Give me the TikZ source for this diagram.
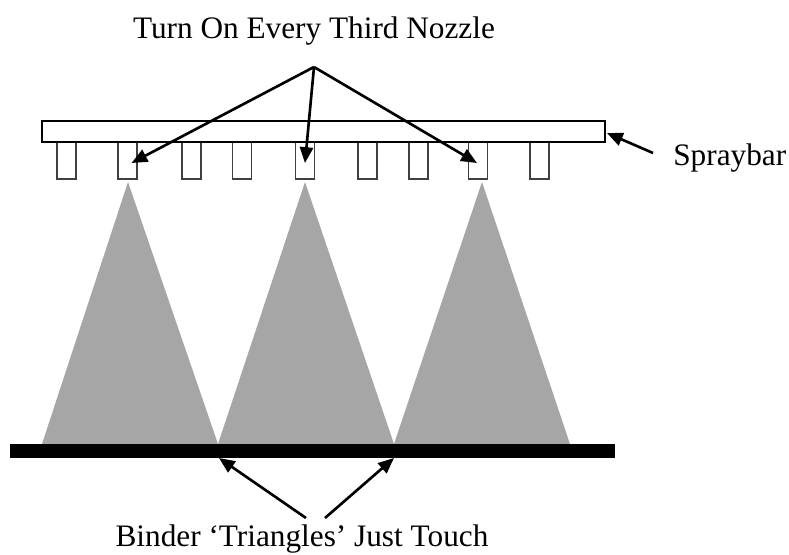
\documentclass[tikz,border=0pt]{standalone}
\usepackage{fontspec}
\setmainfont{Liberation Serif}
\usetikzlibrary{arrows.meta}
\definecolor{spraygray}{HTML}{A6A6A6}
\definecolor{nozzlegray}{HTML}{404040}

\begin{document}
\begin{tikzpicture}[x=0.02cm, y=-0.02cm,
    nozzle/.style={draw=nozzlegray, line width=0.6pt, minimum width=0.38cm,
                   minimum height=0.74cm, inner sep=0pt, outer sep=0pt},
    pointer/.style={-{Triangle[length=9pt, width=7.5pt]}, line width=1.5pt},
    callout/.style={font=\fontsize{17.8}{21}\selectfont, inner sep=0pt}]
    \useasboundingbox (0,0) rectangle (789,555);
    \foreach \l/\a/\r in {42/128/218, 218/305/394, 394/482/570}{
      \fill[spraygray] (\l,444) -- (\a,182) -- (\r,444) -- cycle;
    }
    \foreach \i/\x in {1/66.5, 2/127.5, 3/191.5, 4/242, 5/305,
                       6/367.5, 7/418.5, 8/478, 9/539.5}{
      \node[nozzle] (n\i) at (\x,160.5) {};
    }
    \node[draw, line width=1pt, minimum width=11.26cm, minimum height=0.42cm,
          inner sep=0pt, outer sep=0pt] (bar) at (323.5,131.5) {};
    \node[fill=black, minimum width=12.1cm, minimum height=0.28cm,
          inner sep=0pt, outer sep=0pt] (bed) at (312.5,451) {};
    \node[callout, anchor=base] (title) at (314,38) {Turn On Every Third Nozzle};
    \node[callout, anchor=base west] (spraylbl) at (673,165) {Spraybar};
    \node[callout, anchor=base] (binder) at (302,546) {Binder ‘Triangles’ Just Touch};
    \coordinate (hub) at (314,67);
    \coordinate (sbtail) at (653,153);
    \coordinate (j1) at (219,444);
    \coordinate (j2) at (394,444);
    \coordinate (lt) at (306,518);
    \coordinate (rt) at (325,518);
    \foreach \i/\dx in {2/0.08, 5/0, 8/-0.02}{
      \draw[pointer] (hub) -- ([xshift=\dx cm, yshift=-0.42cm]n\i.north);
    }
    \draw[pointer] (sbtail) -- ([xshift=0.04cm, yshift=-0.03cm]bar.east);
    \draw[pointer] (lt) -- (j1 |- bed.south);
    \draw[pointer] (rt) -- (j2 |- bed.south);
\end{tikzpicture}
\end{document}
